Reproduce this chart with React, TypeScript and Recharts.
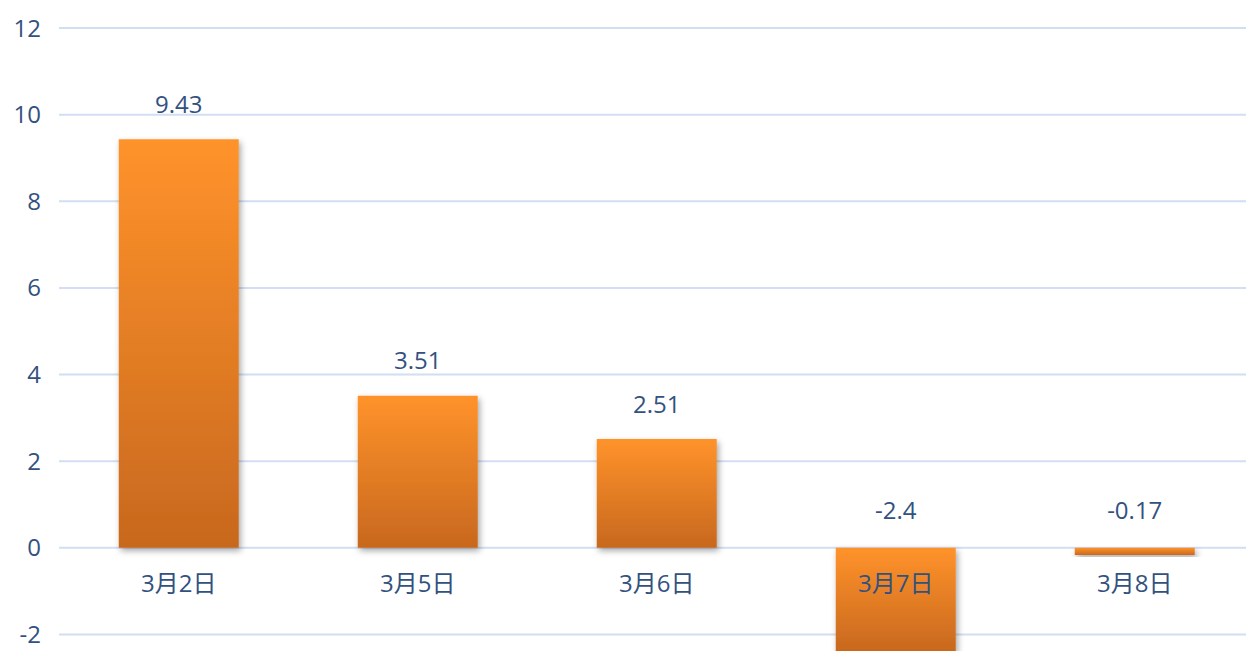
import { Bar, BarChart, CartesianGrid, LabelList, XAxis, YAxis } from "recharts";

const categories = ["3月2日", "3月5日", "3月6日", "3月7日", "3月8日"];
const changes = [9.43, 3.51, 2.51, -2.4, -0.17];
const yTicks = [-2, 0, 2, 4, 6, 8, 10, 12];

const data = categories.map((name, i) => ({ name, value: changes[i] }));

const TEXT = "#33517f";
const FONT = '"Open Sans", "Noto Sans CJK SC", sans-serif';

// bar box in pixels, whatever sign recharts gave the height
function barBox(props: any) {
  const vb = props.viewBox ?? props;
  const y = Number(vb.y ?? props.y);
  const h = Number(vb.height ?? props.height);
  const x = Number(vb.x ?? props.x);
  const w = Number(vb.width ?? props.width);
  return { cx: x + w / 2, top: Math.min(y, y + h), bottom: Math.max(y, y + h) };
}

function ValueLabel(props: any) {
  const v = changes[props.index];
  const { cx, top } = barBox(props);
  return (
    <text
      x={cx}
      y={top - (v >= 0 ? 36 : 38)}
      textAnchor="middle"
      dominantBaseline="central"
      fill={TEXT}
      fontSize={24}
      fontFamily={FONT}
    >
      {v}
    </text>
  );
}

function CategoryLabel(props: any) {
  const v = changes[props.index];
  const { cx, top, bottom } = barBox(props);
  const base = v >= 0 ? bottom : top;
  return (
    <text
      x={cx}
      y={base + 35}
      textAnchor="middle"
      dominantBaseline="central"
      fill={TEXT}
      fontSize={24}
      fontFamily={FONT}
    >
      {categories[props.index]}
    </text>
  );
}

export default function App() {
  return (
    <div
      style={{
        position: "absolute",
        top: 0,
        left: 0,
        width: 1246,
        height: 651,
        overflow: "hidden",
        background: "#fff",
      }}
    >
      <BarChart
        width={1254}
        height={740}
        data={data}
        margin={{ top: 28, right: 0, bottom: 19, left: 0 }}
        barCategoryGap="25%"
      >
        <defs>
          <linearGradient id="barFill" x1="0" y1="0" x2="0" y2="1">
            <stop offset="0%" stopColor="#ff932b" />
            <stop offset="100%" stopColor="#c8681e" />
          </linearGradient>
          <filter id="barShadow" x="-10%" y="-10%" width="125%" height="130%">
            <feDropShadow dx="2" dy="3" stdDeviation="3" floodColor="#000" floodOpacity="0.35" />
          </filter>
        </defs>
        <CartesianGrid vertical={false} stroke="#d2def2" strokeWidth={2} />
        <XAxis dataKey="name" hide />
        <YAxis
          domain={[-4, 12]}
          ticks={yTicks}
          width={59}
          axisLine={false}
          tickLine={false}
          tickSize={0}
          tickMargin={18}
          tick={{ fill: TEXT, fontSize: 24, fontFamily: FONT }}
        />
        <Bar
          dataKey="value"
          fill="url(#barFill)"
          filter="url(#barShadow)"
          isAnimationActive={false}
        >
          <LabelList dataKey="value" content={ValueLabel} />
          <LabelList dataKey="name" content={CategoryLabel} />
        </Bar>
      </BarChart>
    </div>
  );
}
